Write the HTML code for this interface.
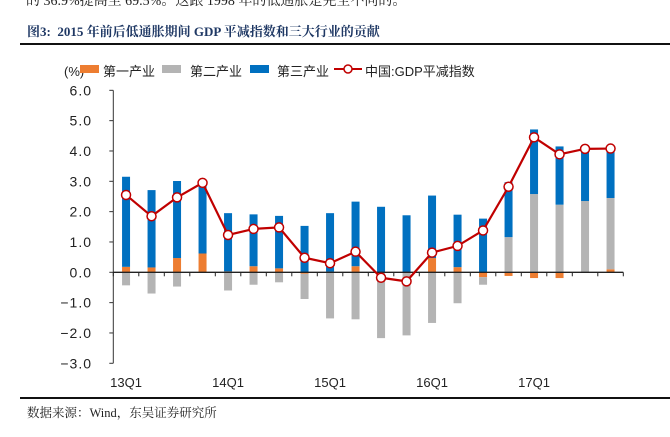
<!DOCTYPE html>
<html><head><meta charset="utf-8"><style>
body{margin:0;background:#fff;width:670px;height:437px;overflow:hidden;position:relative;font-family:"Liberation Sans","Noto Sans CJK SC",sans-serif}
.abs{position:absolute}
</style></head><body>
<div class="abs" style="left:26px;top:-10px;font-family:'Liberation Serif','Noto Serif CJK SC',serif;font-size:14px;color:#222;white-space:nowrap">的 36.9%提高至 69.5%。这跟 1998 年的低通胀是完全不同的。</div>
<div class="abs" style="left:27px;top:21px;font-family:'Liberation Serif','Noto Serif CJK SC',serif;font-weight:bold;font-size:13px;color:#1f3864;white-space:nowrap">图3:&nbsp;&nbsp;2015 年前后低通胀期间 GDP 平减指数和三大行业的贡献</div>
<div class="abs" style="left:20px;top:43px;width:650px;height:2px;background:#111"></div>
<svg class="abs" style="left:0;top:0" width="670" height="437">
<g id="g"></g>
</svg>
<div class="abs" style="left:20px;top:397px;width:650px;height:2px;background:#111"></div>
<div class="abs" style="left:27px;top:403px;font-family:'Liberation Serif','Noto Serif CJK SC',serif;font-size:12.5px;color:#222;white-space:nowrap">数据来源：Wind，东吴证券研究所</div>
<script>
const categories=["13Q1","13Q2","13Q3","13Q4","14Q1","14Q2","14Q3","14Q4","15Q1","15Q2","15Q3","15Q4","16Q1","16Q2","16Q3","16Q4","17Q1","17Q2","17Q3","17Q4"];
const primary=[0.18,0.16,0.47,0.62,0.03,0.2,0.13,-0.05,0.02,0.2,0.0,0.0,0.47,0.17,-0.16,-0.12,-0.19,-0.19,0.0,0.1];
const secondary=[-0.43,-0.7,-0.47,0.0,-0.6,-0.41,-0.33,-0.83,-1.52,-1.55,-2.17,-2.08,-1.67,-1.02,-0.25,1.16,2.58,2.23,2.35,2.35];
const tertiary=[2.97,2.55,2.54,2.28,1.92,1.71,1.73,1.53,1.93,2.13,2.16,1.88,2.06,1.73,1.77,1.81,2.13,1.92,1.72,1.63];
const deflator=[2.55,1.85,2.47,2.95,1.23,1.43,1.48,0.48,0.3,0.68,-0.18,-0.3,0.65,0.87,1.38,2.82,4.45,3.89,4.07,4.08];
const yTicks=[6,5,4,3,2,1,0,-1,-2,-3];
const xLabels=[0,4,8,12,16];
const NS="http://www.w3.org/2000/svg",g=document.getElementById('g');
const x0=113.3,x1=623.3,band=(x1-x0)/categories.length;
const X=i=>x0+band*(i+0.5);
const Y=v=>272.3-v*30.33;
function mk(t,a,p){const e=document.createElementNS(NS,t);for(const k in a)e.setAttribute(k,a[k]);(p||g).appendChild(e);return e;}
let e=mk('line',{x1:x0,y1:Y(6),x2:x0,y2:Y(-3),stroke:'#333','stroke-width':1});

yTicks.forEach(v=>{
 mk('line',{x1:x0-4,y1:Y(v),x2:x0,y2:Y(v),stroke:'#333'});
 const t=mk('text',{x:92,y:Y(v)+5,'text-anchor':'end','font-size':14,fill:'#222','letter-spacing':'1'});
 t.textContent=v.toFixed(1).replace('-','−');
 
});
const cols={p:'#ed7d31',s:'#b4b4b4',t:'#0070c0'};
categories.forEach((c,i)=>{
 let pos=0,neg=0;const w=8;
 [['p',primary[i]],['s',secondary[i]],['t',tertiary[i]]].forEach(([k,v])=>{
  if(!v)return;let a,b;
  if(v>0){a=pos;b=pos+v;pos=b;}else{a=neg;b=neg+v;neg=b;}
  const r=mk('rect',{x:X(i)-w/2,y:Math.min(Y(a),Y(b)),width:w,height:Math.abs(Y(a)-Y(b)),fill:cols[k]});
  
 });
});
e=mk('line',{x1:x0,y1:Y(0),x2:x1,y2:Y(0),stroke:'#222','stroke-width':1.3});

for(let i=0;i<=categories.length;i++)mk('line',{x1:x0+band*i,y1:Y(0),x2:x0+band*i,y2:Y(0)+4,stroke:'#222'});
xLabels.forEach(i=>{const t=mk('text',{x:X(i),y:387,'text-anchor':'middle','font-size':13,fill:'#222'});t.textContent=categories[i];
 });
const ln=mk('polyline',{points:deflator.map((v,i)=>X(i)+','+Y(v)).join(' '),fill:'none',stroke:'#c00000','stroke-width':2.2});

deflator.forEach((v,i)=>{const c=mk('circle',{cx:X(i),cy:Y(v),r:4.5,fill:'#fff',stroke:'#c00000','stroke-width':1.5});
 });
let t=mk('text',{x:64,y:76,'font-size':13,fill:'#222'});t.textContent='(%)';

const leg=[['第一产业',cols.p,80,103],['第二产业',cols.s,162,190],['第三产业',cols.t,250,277]];
leg.forEach(([n,c,x,tx])=>{const lg=mk('g',{});
 mk('rect',{x:x,y:65,width:19,height:8,fill:c},lg);const tt=mk('text',{x:tx,y:76,'font-size':13,fill:'#222'},lg);tt.textContent=n;});
const lg=mk('g',{});
mk('line',{x1:334,y1:69,x2:362,y2:69,stroke:'#c00000','stroke-width':2},lg);
mk('circle',{cx:348,cy:69,r:4,fill:'#fff',stroke:'#c00000','stroke-width':1.5},lg);
t=mk('text',{x:365,y:76,'font-size':13,fill:'#222'},lg);t.textContent='中国:GDP平减指数';
</script>
</body></html>
